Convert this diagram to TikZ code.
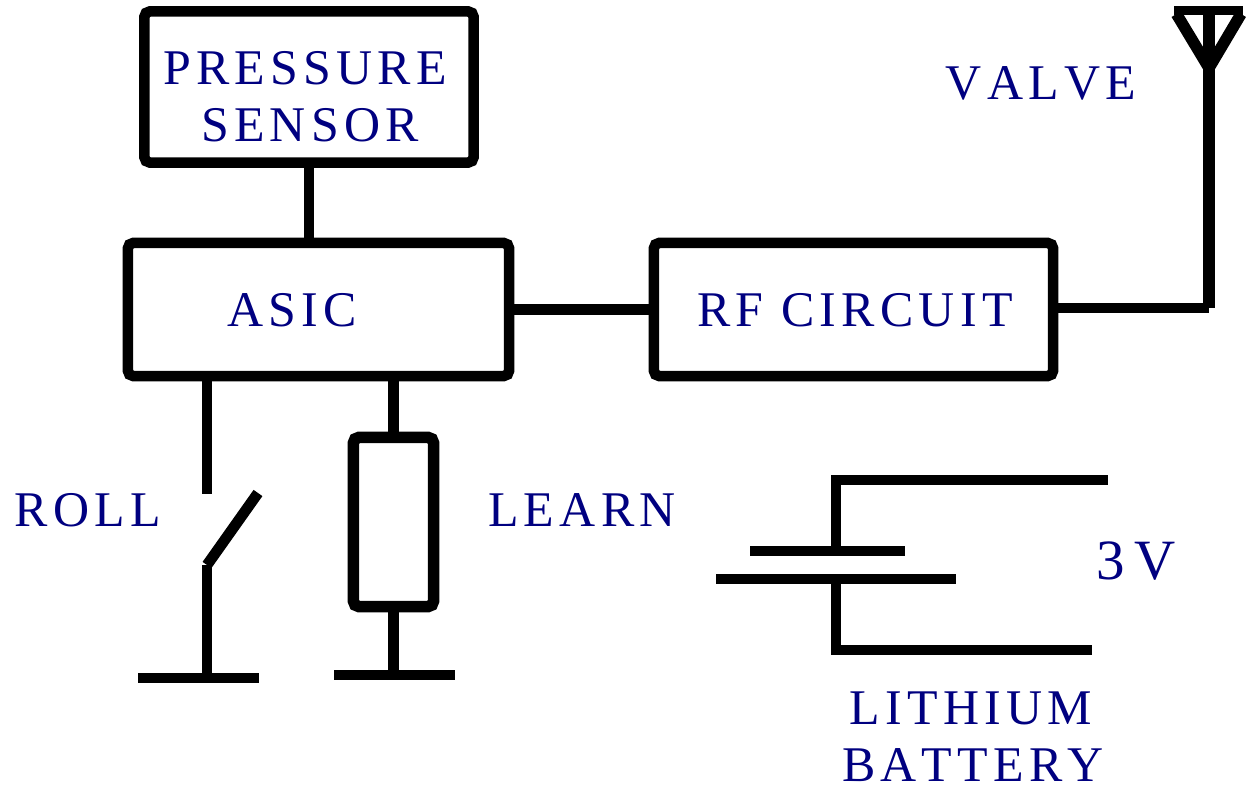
\documentclass[tikz,border=0pt]{standalone}
\usepackage{fontspec}
\setmainfont[LetterSpace=10.5,Kerning=Off]{Liberation Serif}
\definecolor{labelblue}{RGB}{0,0,128}

\begin{document}
\begin{tikzpicture}[x=0.01cm,y=-0.01cm,line width=0.108cm,
  main box/.style={draw,line width=0.105cm,rounded corners=1.5pt,inner sep=0pt,outer sep=0pt},
  main label/.style={inner sep=0pt,text=labelblue,font=\fontsize{14.2}{16.2}\selectfont},
  plate/.style={inner sep=0pt,outer sep=0pt,minimum height=0.1cm,fill=black}]

  \useasboundingbox (0,0) rectangle (1247,794);

  \node[main box,minimum width=3.29cm,minimum height=1.51cm] (sensor) at (309,87) {};
  \node[main box,minimum width=3.81cm,minimum height=1.33cm] (asic) at (318.5,309.5) {};
  \node[main box,minimum width=3.99cm,minimum height=1.33cm] (rf) at (853.5,309.5) {};
  \node[main box,minimum width=0.80cm,minimum height=1.69cm,line width=0.115cm] (res) at (393.5,522) {};

  \node[main label] (pressure) at (305,68) {PRESSURE};
  \node[main label] (sensorname) at (310,125) {SENSOR};
  \node[main label] (asictext) at (292,310) {ASIC};
  \node[main label] (rftext) at (855,310) {RF CIRCUIT};
  \node[main label] (valve) at (1041,83) {VALVE};
  \node[main label] (roll) at (88,510) {ROLL};
  \node[main label] (learn) at (582,510) {LEARN};
  \node[main label,font=\fontsize{16.2}{18}\selectfont] (volt) at (1136,561) {3\,V};
  \node[main label] (lithium) at (971,708) {LITHIUM};
  \node[main label] (battery) at (973,765) {BATTERY};

  \coordinate (sensorfoot) at (309,243);
  \coordinate (swtop) at (207,494);
  \coordinate (swarm) at (258,493);
  \coordinate (swpivot) at (207,565);
  \coordinate (swbase) at (207,678);
  \coordinate (resbase) at (394,675);
  \coordinate (aerialfoot) at (1209,308);
  \coordinate (aerialtop) at (1209,10);
  \coordinate (aerialtip) at (1209,68);
  \coordinate (aerialleft) at (1176.5,14);
  \coordinate (aerialright) at (1241,14);
  \coordinate (barleft) at (1174,10.5);
  \coordinate (barright) at (1243,10.5);
  \coordinate (batcorner1) at (836,480);
  \coordinate (batcorner2) at (836,650);
  \coordinate (battopend) at (1108,480);
  \coordinate (batbotend) at (1092,650);

  \node[plate,minimum width=1.21cm] (gndroll) at (198.5,678) {};
  \node[plate,minimum width=1.21cm] (gndlearn) at (394.5,675) {};
  \node[plate,minimum width=1.55cm] (plate1) at (827.5,551) {};
  \node[plate,minimum width=2.40cm] (plate2) at (836,579) {};

  \draw (sensor.south) -- (sensorfoot);
  \draw (asic.east) -- (rf.west);
  \draw (asic.south -| swtop) -- (swtop);
  \draw (swpivot) -- (swbase);
  \draw (swpivot) -- (swarm);
  \draw (asic.south -| res.north) -- (res.north);
  \draw (res.south) -- (res.south |- resbase);

  \draw[line width=0.12cm] (aerialtop) -- (aerialfoot);
  \draw (rf.east |- aerialfoot) -- (aerialfoot);
  \draw[line width=0.115cm] (aerialleft) -- (aerialtip) -- (aerialright);
  \draw[line width=0.09cm] (barleft) -- (barright);

  \draw (plate1.north -| batcorner1) -- (batcorner1) -- (battopend);
  \draw (plate2.south -| batcorner2) -- (batcorner2) -- (batbotend);

\end{tikzpicture}
\end{document}
